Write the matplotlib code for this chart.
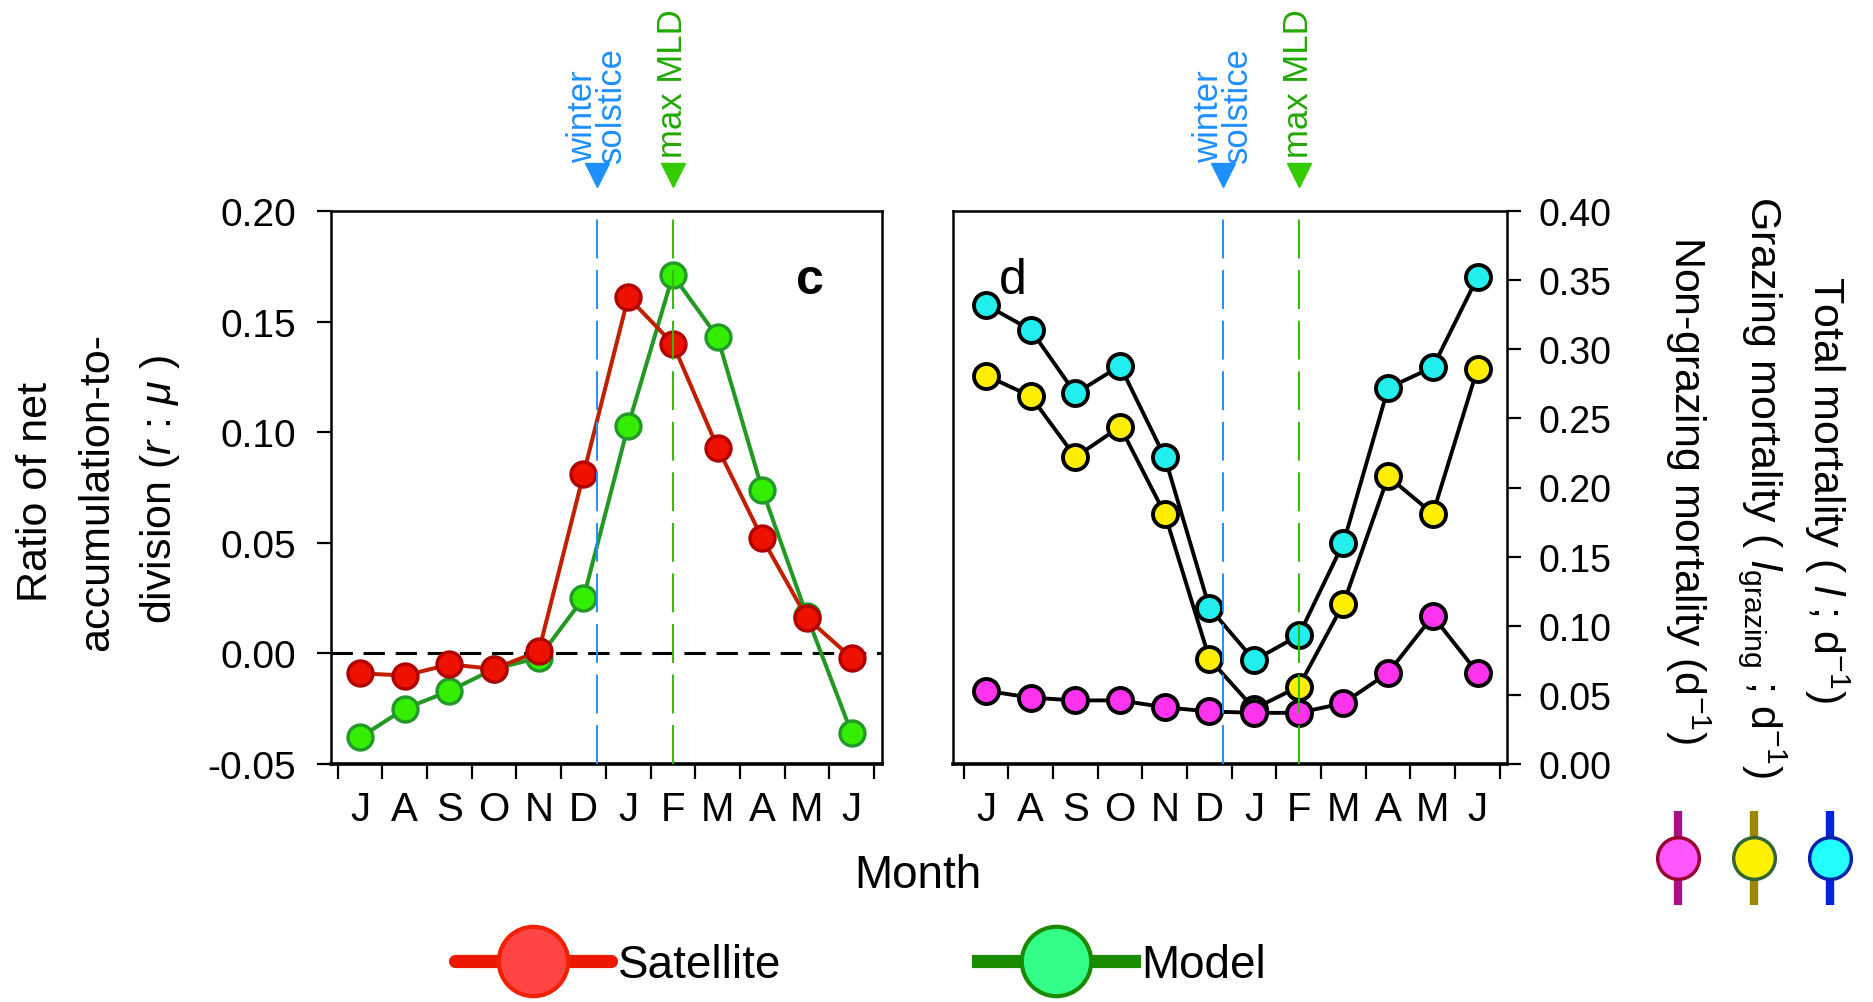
import matplotlib
matplotlib.use("Agg")
import matplotlib.pyplot as plt
from matplotlib.lines import Line2D
from matplotlib.legend_handler import HandlerTuple
import numpy as np

plt.rcParams['font.family'] = ['Liberation Sans', 'DejaVu Sans']
plt.rcParams['mathtext.fontset'] = 'custom'
plt.rcParams['mathtext.rm'] = 'Liberation Sans'
plt.rcParams['mathtext.it'] = 'Liberation Sans:italic'

months = ['J', 'A', 'S', 'O', 'N', 'D', 'J', 'F', 'M', 'A', 'M', 'J']

# panel c: ratio r : mu
satellite = [-0.009, -0.010, -0.005, -0.007, 0.001, 0.081, 0.161, 0.140, 0.093, 0.052, 0.016, -0.002]
model = [-0.038, -0.025, -0.017, -0.007, -0.002, 0.025, 0.103, 0.171, 0.143, 0.074, 0.017, -0.036]

# panel d: mortality (d-1)
total_mort = [0.332, 0.314, 0.268, 0.288, 0.222, 0.113, 0.075, 0.093, 0.160, 0.272, 0.287, 0.352]
grazing_mort = [0.281, 0.266, 0.222, 0.244, 0.181, 0.076, 0.040, 0.056, 0.116, 0.208, 0.181, 0.286]
nongrazing_mort = [0.053, 0.048, 0.046, 0.046, 0.041, 0.038, 0.037, 0.037, 0.044, 0.066, 0.107, 0.066]

solstice_x = 5.3
max_mld_x = 7.0

BLUE = '#1E90FF'
GREEN = '#2DBE00'

fig = plt.figure(figsize=(18.74, 10.03), dpi=100)
H = 1003.0
W = 1874.0
ax_c = fig.add_axes([331 / W, 1 - 765 / H, 551 / W, 553 / H])
ax_d = fig.add_axes([953 / W, 1 - 765 / H, 554 / W, 553 / H])

x = np.arange(len(months))


def month_axis(ax, xlim):
    ax.set_xlim(*xlim)
    ax.set_xticks(x)
    ax.set_xticklabels(months, fontsize=29)
    ax.set_xticks(np.arange(-0.5, 12, 1), minor=True)
    ax.tick_params(axis='x', which='major', length=0, pad=19)
    ax.tick_params(axis='x', which='minor', length=11, width=1.6, direction='out')
    for s in ax.spines.values():
        s.set_linewidth(1.8)
    ax.spines['bottom'].set_linewidth(2.6)


def events(ax):
    tr = ax.get_xaxis_transform()
    ax.axvline(solstice_x, color=BLUE, lw=1.4, ls=(0, (20, 6)), zorder=6)
    ax.axvline(max_mld_x, color=GREEN, lw=1.4, ls=(0, (20, 6)), zorder=6)
    ax.plot([solstice_x], [1.066], marker='v', ms=17, color=BLUE, transform=tr, clip_on=False)
    ax.plot([max_mld_x], [1.066], marker='v', ms=17, color='#33CC00', transform=tr, clip_on=False)
    ax.text(solstice_x, 1.089, 'winter\nsolstice', transform=tr, rotation=90, ha='center',
            va='bottom', multialignment='left', linespacing=0.85, fontsize=25, color=BLUE)
    ax.text(max_mld_x, 1.098, 'max MLD', transform=tr, rotation=90, ha='center',
            va='bottom', fontsize=25, color='#22A800')


# ---- panel c
month_axis(ax_c, (-0.65, 11.68))
ax_c.set_ylim(-0.05, 0.20)
ax_c.set_yticks([-0.05, 0.00, 0.05, 0.10, 0.15, 0.20])
ax_c.set_yticklabels(['-0.05', '0.00', '0.05', '0.10', '0.15', '0.20'], fontsize=28)
ax_c.tick_params(axis='y', length=10, width=1.6, pad=15)
ax_c.axhline(0, color='black', lw=2.2, ls=(0, (7, 3.5)), zorder=1)
ax_c.plot(x, model, color='#229922', lw=2.9, marker='o', ms=18, mfc='#33EE00',
          mec='#22992A', mew=2.4, zorder=3)
ax_c.plot(x, satellite, color='#C02000', lw=2.9, marker='o', ms=18, mfc='#EE1100',
          mec='#B00000', mew=2.4, zorder=4)
events(ax_c)
ax_c.text(10.07, 0.1686, 'c', fontsize=36, fontweight='bold', ha='center', va='center')

# ---- panel d
month_axis(ax_d, (-0.74, 11.66))
ax_d.set_ylim(0, 0.40)
yt = np.arange(0, 0.41, 0.05)
ax_d.set_yticks(yt)
ax_d.set_yticklabels(['%.2f' % v for v in yt], fontsize=27)
ax_d.yaxis.tick_right()
ax_d.tick_params(axis='y', length=10, width=1.6, pad=13)
for vals, fc in [(total_mort, '#22EEEE'), (grazing_mort, '#FFEE00'), (nongrazing_mort, '#FF33EE')]:
    ax_d.plot(x, vals, color='black', lw=2.8, marker='o', ms=18, mfc=fc, mec='black',
              mew=2.8, zorder=3)
events(ax_d)
ax_d.text(0.6, 0.35, 'd', fontsize=36, ha='center', va='center')

# ---- axis titles
fig.text(36 / W, 1 - 492 / H, 'Ratio of net', rotation=90, ha='center', va='center', fontsize=31)
fig.text(97 / W, 1 - 492 / H, 'accumulation-to-', rotation=90, ha='center', va='center', fontsize=31)
fig.text(160 / W, 1 - 490 / H, r'division ($r$ : $\mu$ )', rotation=90, ha='center', va='center',
         fontsize=31)

fig.text(1688 / W, 1 - 490 / H, r'Non-grazing mortality (d$^{-1}$)', rotation=270,
         ha='center', va='center', fontsize=31)
fig.text(1763 / W, 1 - 487 / H, r'Grazing mortality ( $l_{\mathrm{grazing}}$ ; d$^{-1}$)',
         rotation=270, ha='center', va='center', fontsize=31)
fig.text(1827 / W, 1 - 490 / H, r'Total mortality ( $l$ ; d$^{-1}$)', rotation=270,
         ha='center', va='center', fontsize=31)

fig.text(918 / W, 1 - 876 / H, 'Month', ha='center', va='center', fontsize=33)

# ---- legend: satellite / model
h_sat = Line2D([], [], color='#EE1800', lw=9.5, marker='o', ms=50, mfc='#FF4444',
               mec='#EE2200', mew=3, solid_capstyle='round')
h_mod = Line2D([], [], color='#1A8C00', lw=9.5, marker='o', ms=50, mfc='#33FF88',
               mec='#1A8A00', mew=3)
fig.legend([h_sat, h_mod], ['Satellite', 'Model'], loc='center left',
           bbox_to_anchor=(455 / W, 1 - 966 / H), ncol=2, frameon=False, fontsize=33,
           handlelength=3.4, handletextpad=0.15, columnspacing=4.3, borderpad=0,
           borderaxespad=0)

# ---- legend: mortality keys
keys = []
for lc, fc, ec in [('#AA1188', '#FF55FF', '#990033'), ('#998800', '#FFF200', '#336633'),
                   ('#0022DD', '#22FFFF', '#0022AA')]:
    bar = Line2D([], [], ls='none', marker='|', ms=68, mew=6, color=lc)
    dot = Line2D([], [], ls='none', marker='o', ms=30, mfc=fc, mec=ec, mew=2.5)
    keys.append((bar, dot))
fig.legend(keys, ['', '', ''], handler_map={tuple: HandlerTuple(ndivide=1)},
           loc='center', bbox_to_anchor=(1754 / W, 1 - 862 / H), ncol=3, frameon=False,
           fontsize=20, handlelength=1.0, handletextpad=0, columnspacing=1.75,
           borderpad=0, borderaxespad=0)

fig.savefig('out.png', dpi=100)
